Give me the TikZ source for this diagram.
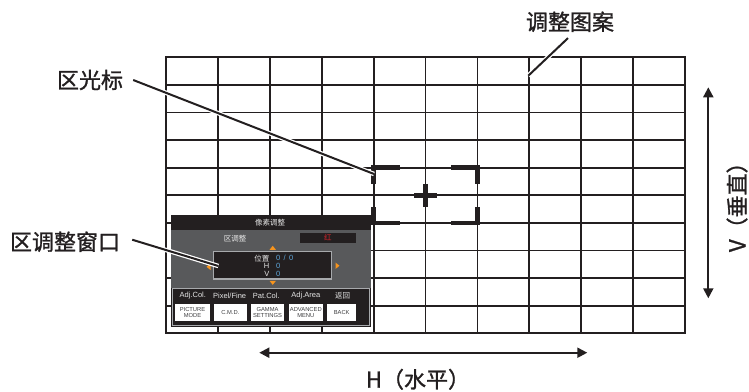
\documentclass[tikz,border=0pt]{standalone}
\usepackage{fontspec}
\setmainfont{Liberation Sans}
\newfontfamily\cjk{Noto Sans CJK SC}
\newfontfamily\cjklabel[FakeBold=1.2]{Noto Sans CJK SC}
\usetikzlibrary{arrows.meta, positioning, calc}
\definecolor{ink}{HTML}{231F20}
\definecolor{osdgray}{HTML}{58595B}
\definecolor{osdline}{HTML}{A7A9AC}
\definecolor{osdorange}{HTML}{F7941D}
\definecolor{osdblue}{HTML}{5FA8DC}
\definecolor{osdred}{HTML}{D2232A}
\tikzstyle{callout} = [font=\cjklabel\fontsize{22bp}{26bp}\selectfont, inner sep=0pt, text=ink]
\tikzstyle{leader} = [draw=ink, line width=2bp, preaction={draw=white, line width=4.5bp}]
\tikzstyle{gridline} = [draw=ink, line width=1.8bp]
\tikzstyle{bracket} = [draw=ink, line width=4.5bp]
\tikzstyle{dimarrow} = [draw=ink, line width=2bp, {Triangle[length=10bp,width=10bp]}-{Triangle[length=10bp,width=10bp]}]
\tikzstyle{osdtext} = [inner sep=0pt, text=white!90!black, font=\fontsize{7.5bp}{8bp}\selectfont]
\tikzstyle{osdcjk} = [inner sep=0pt, text=white!90!black, font=\cjk\fontsize{7.5bp}{8bp}\selectfont]
\tikzstyle{osdbtn} = [fill=white, minimum height=16.4bp, inner sep=0pt, align=center, text=osdgray!70!black, font=\fontsize{5.8bp}{6.2bp}\selectfont]
\tikzstyle{osdtri} = [fill=osdorange]

\begin{document}
\begin{tikzpicture}[x=1bp, y=-1bp]
  \useasboundingbox (0,0) rectangle (749,391);

  % adjustment pattern
  \foreach \i in {0,...,10} {
    \draw[gridline] ({166+51.9*\i},57.3) -- ({166+51.9*\i},333.3);
    \draw[gridline] (166,{57.3+27.6*\i}) -- (685,{57.3+27.6*\i});
  }
  \draw[gridline, line width=2.2bp] (166,57.3) rectangle (685,333.3);

  % zone cursor
  \draw[bracket] (400,167.7) -- (373.6,167.7) -- (373.6,183.7);
  \draw[bracket] (451,167.7) -- (477.4,167.7) -- (477.4,183.7);
  \draw[bracket] (400,222.9) -- (373.6,222.9) -- (373.6,206.9);
  \draw[bracket] (451,222.9) -- (477.4,222.9) -- (477.4,206.9);
  \draw[bracket] (414,195.3) -- (437,195.3);
  \draw[bracket] (425.5,183.8) -- (425.5,206.8);

  % zone adjustment window
  \fill[ink] (171,215) rectangle (370.5,327);
  \fill[osdgray] (171,230) rectangle (370.5,288);
  \node[osdcjk] (title) at (270,222.5) {像素调整};
  \node[osdcjk] (zone) at (235,238.3) {区调整};
  \node[fill=ink, minimum width=55.7bp, minimum height=9.7bp, inner sep=0pt] (colbox) at (327.8,237.8) {};
  \node[osdcjk, text=osdred] (colname) at (colbox) {红};
  \fill[osdtri] (269.5,249.8) -- (275.9,249.8) -- (272.7,245.8) -- cycle;
  \draw[osdline, line width=1.3bp, fill=ink] (213.3,251.7) rectangle (331.7,279);
  \node[osdcjk, anchor=east] (pos) at (269.5,258.3) {位置};
  \node[osdtext, anchor=east] (hname) at (269.5,266.2) {H};
  \node[osdtext, anchor=east] (vname) at (269.5,274) {V};
  \node[osdtext, anchor=west, text=osdblue] (posval) at (276,258.3) {0 \,/\, 0};
  \node[osdtext, anchor=west, text=osdblue] (hval) at (276,266.2) {0};
  \node[osdtext, anchor=west, text=osdblue] (vval) at (276,274) {0};
  \fill[osdtri] (335.5,262.5) -- (335.5,269) -- (339.5,265.7) -- cycle;
  \fill[osdtri] (210.5,263.5) -- (210.5,270) -- (206.5,266.8) -- cycle;
  \fill[osdtri] (269.5,280.8) -- (275.9,280.8) -- (272.7,284.8) -- cycle;
  \draw[osdline, line width=1bp] (172.3,288.6) rectangle (369.2,325.7);
  \node[osdtext] (l1) at (192.8,295.7) {Adj.Col.};
  \node[osdtext] (l2) at (229.7,295.7) {Pixel/Fine};
  \node[osdtext] (l3) at (266.3,295.7) {Pat.Col.};
  \node[osdtext] (l4) at (305.8,295.7) {Adj.Area};
  \node[osdcjk] (l5) at (342.5,295.7) {返回};
  \node[osdbtn, minimum width=35bp] (b1) at (192.5,312.5) {PICTURE\\MODE};
  \node[osdbtn, minimum width=32.7bp] (b2) at (230.3,312.5) {C.M.D.};
  \node[osdbtn, minimum width=33bp] (b3) at (267.5,312.5) {GAMMA\\SETTINGS};
  \node[osdbtn, minimum width=33.7bp] (b4) at (305.8,312.5) {ADVANCED\\MENU};
  \node[osdbtn, minimum width=28.7bp] (b5) at (341.7,312.5) {BACK};

  % callouts
  \node[callout] (cursorlbl) at (90,80) {区光标};
  \node[callout] (patlbl) at (570,21.7) {调整图案};
  \node[callout] (winlbl) at (65,241.7) {区调整窗口};
  \node[callout] (hlbl) at (418,379.3) {H（水平）};
  \node[callout, rotate=90] (vlbl) at (737,201.7) {V（垂直）};

  \coordinate (cursortip) at (374,174);
  \coordinate (pattip) at (528.3,75.7);
  \coordinate (wintip) at (218.3,266);
  \coordinate (hleft) at (259.3,352.7);
  \coordinate (hright) at (587.3,352.7);
  \coordinate (vtop) at (708.3,87.3);
  \coordinate (vbot) at (708.3,298.3);

  \draw[leader] ([xshift=10bp]cursorlbl.east) -- (cursortip);
  \draw[leader] ([xshift=-2bp,yshift=-6bp]patlbl.south) -- (pattip);
  \draw[leader] ([xshift=12bp,yshift=2bp]winlbl.east) -- (wintip);
  \draw[dimarrow] (hleft) -- (hright);
  \draw[dimarrow] (vtop) -- (vbot);
\end{tikzpicture}
\end{document}
